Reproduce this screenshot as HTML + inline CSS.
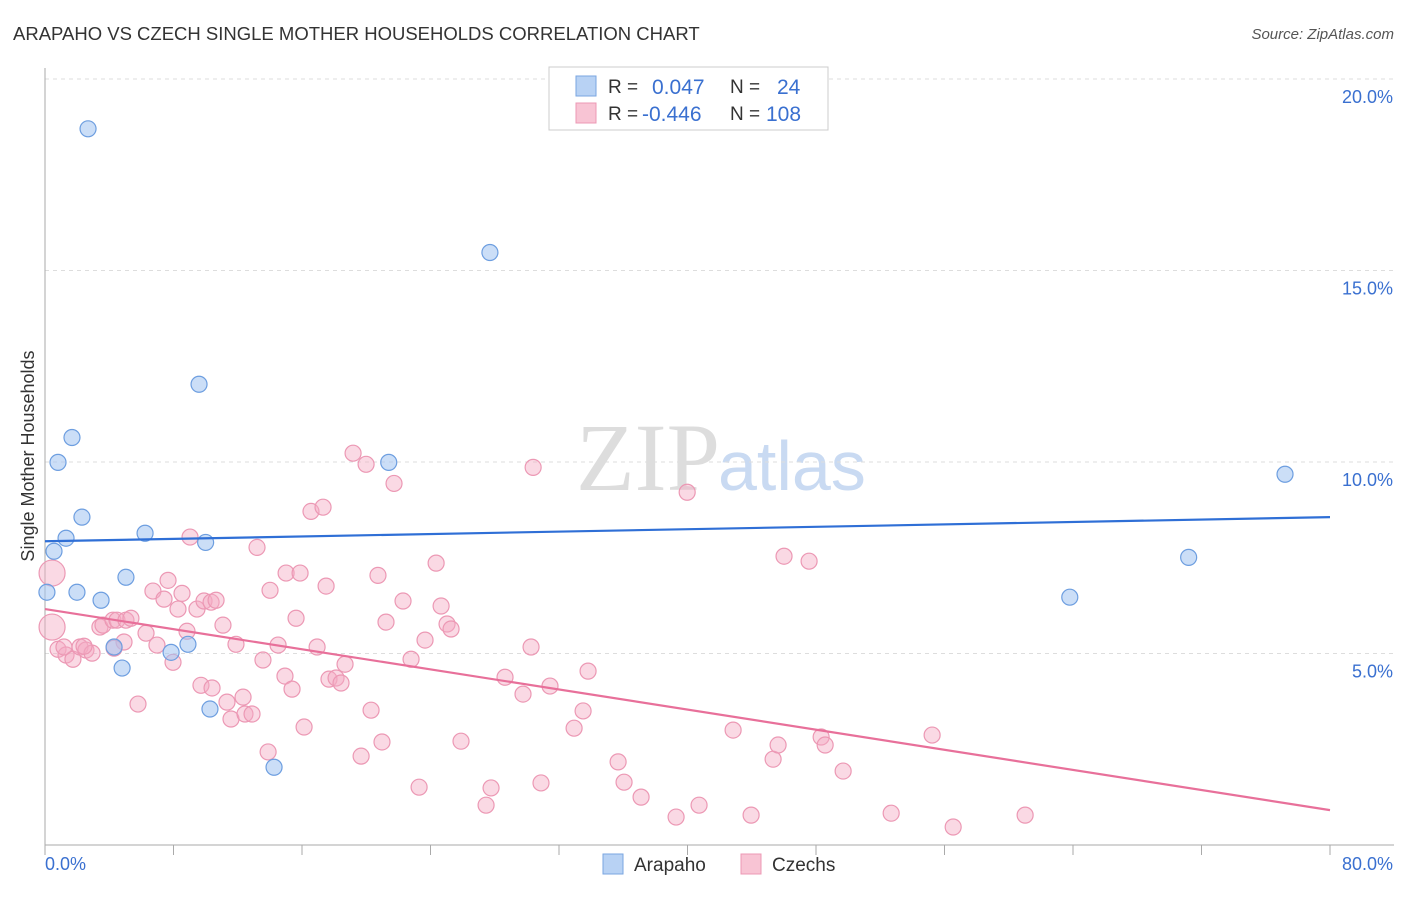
<!DOCTYPE html>
<html><head><meta charset="utf-8"><style>
body{margin:0;background:#fff;font-family:"Liberation Sans",sans-serif}
</style></head><body>
<svg id="c" width="1406" height="892" xmlns="http://www.w3.org/2000/svg">
<text x="13" y="40" font-size="18.5" fill="#333">ARAPAHO VS CZECH SINGLE MOTHER HOUSEHOLDS CORRELATION CHART</text>
<text x="1394" y="39" font-size="15" fill="#555" font-style="italic" text-anchor="end">Source: ZipAtlas.com</text>
<text x="720" y="490" font-size="96" fill="#ddd" font-family="Liberation Serif,serif" text-anchor="end">ZIP</text>
<text x="718" y="490" font-size="70" fill="#c9daf2">atlas</text>
<text transform="translate(34,456) rotate(-90)" font-size="18" fill="#333" text-anchor="middle">Single Mother Households</text>
<g id="grid"></g><g id="marks"></g>
<g>
<rect x="549" y="67" width="279" height="63" fill="#fff" stroke="#ccc"/>
<rect x="576" y="76" width="20" height="20" fill="#b8d2f4" stroke="#7aa6e0"/>
<rect x="576" y="103" width="20" height="20" fill="#f8c4d4" stroke="#ec98b4"/>
<text x="608" y="93" font-size="19" fill="#333">R =</text>
<text x="652" y="94" font-size="21" fill="#3a70d0">0.047</text>
<text x="730" y="93" font-size="19" fill="#333">N =</text>
<text x="777" y="94" font-size="21" fill="#3a70d0">24</text>
<text x="608" y="120" font-size="19" fill="#333">R =</text>
<text x="642" y="121" font-size="21" fill="#3a70d0">-0.446</text>
<text x="730" y="120" font-size="19" fill="#333">N =</text>
<text x="766" y="121" font-size="21" fill="#3a70d0">108</text>
</g>
<g>
<rect x="603" y="854" width="20" height="20" fill="#b8d2f4" stroke="#7aa6e0"/>
<text x="634" y="871" font-size="19" fill="#333">Arapaho</text>
<rect x="741" y="854" width="20" height="20" fill="#f8c4d4" stroke="#ec98b4"/>
<text x="772" y="871" font-size="19" fill="#333">Czechs</text>
</g>
</svg>
<script>
const yTicks=[5,10,15,20];
const yTickLabels=["5.0%","10.0%","15.0%","20.0%"];
const xTickCount=10;
const xEndLabels=["0.0%","80.0%"];
const arapahoX=[2.68,27.7,9.59,1.68,0.81,21.4,77.2,2.3,6.23,1.31,10.0,0.56,71.2,5.04,0.12,1.99,3.49,63.8,4.3,8.9,7.85,4.8,10.27,14.26];
const arapahoY=[18.7,15.47,12.03,10.64,9.99,9.99,9.68,8.56,8.14,8.01,7.9,7.67,7.51,6.99,6.6,6.6,6.39,6.47,5.17,5.24,5.03,4.62,3.55,2.03];
const czechX=[0.44,0.44,0.81,1.31,1.74,1.18,2.18,2.55,2.93,2.43,3.42,3.61,4.23,4.48,5.04,5.35,4.92,4.30,5.79,6.29,6.72,6.97,7.41,7.66,7.97,8.28,8.53,8.84,9.03,9.46,9.90,10.34,10.65,11.08,9.71,10.40,11.33,11.89,12.33,11.58,12.45,12.89,13.20,13.57,14.01,13.89,14.51,14.94,15.01,15.38,15.63,15.88,16.13,16.56,16.94,17.31,17.50,17.68,18.12,18.43,18.68,19.18,19.68,19.99,20.30,20.73,20.98,21.23,21.73,22.29,22.79,23.29,23.66,24.35,24.66,25.03,25.28,25.90,27.46,27.77,28.64,29.76,30.26,30.39,30.88,31.44,32.94,33.50,33.81,35.68,36.05,37.11,39.29,39.98,40.72,42.84,43.96,45.33,45.64,46.01,47.57,48.32,48.57,49.69,52.68,55.23,56.54,61.02];
const czechY=[7.10,5.69,5.11,4.96,4.85,5.17,5.17,5.09,5.01,5.19,5.69,5.74,5.87,5.87,5.87,5.92,5.30,5.14,3.68,5.53,6.63,5.22,6.42,6.91,4.77,6.16,6.57,5.58,8.04,6.16,6.37,6.34,6.39,5.74,4.17,4.10,3.73,5.24,3.86,3.29,3.42,3.42,7.77,4.83,6.65,2.43,5.22,4.41,7.10,4.07,5.92,7.10,3.08,8.71,5.17,8.82,6.76,4.33,4.36,4.23,4.72,10.23,2.32,9.94,3.52,7.04,2.69,5.82,9.44,6.37,4.85,1.51,5.35,7.36,6.24,5.77,5.64,2.71,1.04,1.49,4.38,3.94,5.17,9.86,1.62,4.15,3.05,3.50,4.54,2.17,1.64,1.25,0.73,9.21,1.04,3.00,0.78,2.24,2.61,7.54,7.41,2.82,2.61,1.93,0.83,2.87,0.47,0.78];
const czechBig=[0,1];
const trendArapaho=[7.93,8.56];
const trendCzech=[6.16,0.91];
const NS="http://www.w3.org/2000/svg";
const X=v=>45+v*(1330-45)/80, Y=v=>845-v*(845-462)/10;
function mk(t,a,p){const e=document.createElementNS(NS,t);for(const k in a)e.setAttribute(k,a[k]);p.appendChild(e);return e;}
const g=document.getElementById('grid'),m=document.getElementById('marks');
yTicks.forEach((t,i)=>{const l=mk('line',{x1:45,x2:1394,y1:Y(t),y2:Y(t),stroke:'#ddd','stroke-dasharray':'4,4'},g);


const tx=mk('text',{x:1393,y:Y(t)+24,'font-size':18,fill:'#3a70d0','text-anchor':'end'},g);tx.textContent=yTickLabels[i];

});
const ax=mk('line',{x1:45,x2:45,y1:68,y2:845,stroke:'#aaa'},g);


const bx=mk('line',{x1:45,x2:1394,y1:845,y2:845,stroke:'#aaa'},g);


for(let i=0;i<=xTickCount;i++){const t=mk('line',{x1:X(i*8),x2:X(i*8),y1:845,y2:855,stroke:'#aaa'},g);

}
[[0,'start',45],[80,'end',1393]].forEach((d,i)=>{const tx=mk('text',{x:d[2],y:870,'font-size':18,fill:'#3a70d0','text-anchor':d[1]},g);tx.textContent=xEndLabels[i];

});
czechX.forEach((x,i)=>{const c=mk('circle',{cx:X(x),cy:Y(czechY[i]),r:czechBig.includes(i)?13:8,fill:'rgba(244,170,195,0.45)',stroke:'#ec98b4','stroke-width':1.2},m);

});
arapahoX.forEach((x,i)=>{const c=mk('circle',{cx:X(x),cy:Y(arapahoY[i]),r:8,fill:'rgba(160,195,240,0.55)',stroke:'#6d9ee0','stroke-width':1.2},m);

});
const l1=mk('line',{x1:X(0),x2:X(80),y1:Y(trendArapaho[0]),y2:Y(trendArapaho[1]),stroke:'#2f6fd6','stroke-width':2.2},m);


const l2=mk('line',{x1:X(0),x2:X(80),y1:Y(trendCzech[0]),y2:Y(trendCzech[1]),stroke:'#e8709a','stroke-width':2.2},m);


</script>
</body></html>
